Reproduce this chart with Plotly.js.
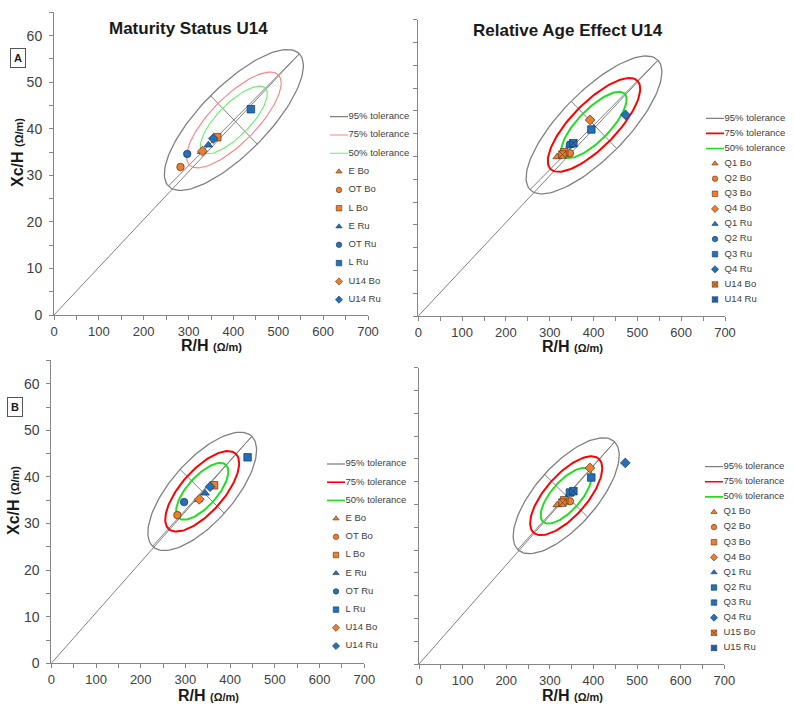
<!DOCTYPE html>
<html>
<head>
<meta charset="utf-8">
<script src="https://cdn.plot.ly/plotly-3.0.1.min.js"></script>
<style>body { margin: 0; background: #fff; }</style>
</head>
<body>
<div id="plotRXc" style="width:794px;height:711px;"></div>
<script>
// Access plot div
let plotRXc = document.getElementById("plotRXc");

// Tolerance ellipses of the reference population: centre, major and minor half-axis at 95%
var u14Centre = [401, 41.9];
var u14Major = [146, 14.2];
var u14Minor = [52, -5.2];
var u15Centre = [337.5, 36.9];
var u15Major = [111, 11.8];
var u15Minor = [49.5, -4.7];

var toleranceLabels = ['95% tolerance', '75% tolerance', '50% tolerance'];
var chiSquare = [5.991, 2.773, 1.386]; // 2 dof quantiles for 95, 75 and 50 %

// Maturity status groups
var maturityNames = ['E Bo', 'OT Bo', 'L Bo', 'E Ru', 'OT Ru', 'L Ru', 'U14 Bo', 'U14 Ru'];
var maturityR = [329, 282, 364, 344, 297, 439, 331, 355];
var maturityXc = [35.1, 31.8, 38.2, 36.5, 34.6, 44.2, 35.2, 37.9];
var maturitySymbols = ['triangle-up', 'circle', 'square', 'triangle-up', 'circle', 'square', 'diamond', 'diamond'];

// Relative age groups
var ageNamesTop = ['Q1 Bo', 'Q2 Bo', 'Q3 Bo', 'Q4 Bo', 'Q1 Ru', 'Q2 Ru', 'Q3 Ru', 'Q4 Ru', 'U14 Bo', 'U14 Ru'];
var ageNamesBottom = ['Q1 Bo', 'Q2 Bo', 'Q3 Bo', 'Q4 Bo', 'Q1 Ru', 'Q2 Ru', 'Q3 Ru', 'Q4 Ru', 'U15 Bo', 'U15 Ru'];
var ageR = [317, 346, 333, 392, 346, 346, 395, 473, 329, 354];
var ageXc = [34.9, 35.7, 35.9, 43.0, 37.4, 37.6, 40.9, 44.1, 35.4, 37.9];
var ageSymbolsTop = ['triangle-up', 'circle', 'square', 'diamond', 'triangle-up', 'circle', 'square', 'diamond', 'square-x', 'square-x'];
var ageSymbolsBottom = ['triangle-up', 'circle', 'square', 'diamond', 'triangle-up', 'square', 'square', 'diamond', 'square-x', 'square-x'];

var orange = '#ed7d31';
var blue = '#2471b8';
var grey = '#808080';
var font = 'Liberation Sans, Arial, sans-serif';

function ellipsePoints(centre, major, minor, k) {
  var xs = [], ys = [];
  for (var i = 0; i <= 120; i++) {
    var t = 2 * Math.PI * i / 120;
    xs.push(centre[0] + k * (Math.cos(t) * major[0] + Math.sin(t) * minor[0]));
    ys.push(centre[1] + k * (Math.cos(t) * major[1] + Math.sin(t) * minor[1]));
  }
  return [xs, ys];
}

function fillFor(name) { return name.indexOf('Bo') > -1 ? orange : blue; }
function edgeFor(name) { return name.indexOf('Bo') > -1 ? '#5a3210' : '#16345a'; }

// one RXc panel: tolerance ellipses, axis lines, group means and a key drawn on its own axes
function makePanel(n, centre, major, minor, names, rs, xcs, symbols, ellipseColors, ellipseWidths) {
  var xa = 'x' + (n === 1 ? '' : n), ya = 'y' + (n === 1 ? '' : n);
  var kx = 'x' + (n + 4), ky = 'y' + (n + 4);
  var traces = [];

  // origin line, major axis and minor axis of the 95% ellipse
  traces.push({
    x: [0, centre[0] + major[0], null, centre[0] - major[0], centre[0] + major[0], null, centre[0] - minor[0], centre[0] + minor[0]],
    y: [0, centre[1] + major[1], null, centre[1] - major[1], centre[1] + major[1], null, centre[1] - minor[1], centre[1] + minor[1]],
    xaxis: xa, yaxis: ya,
    mode: 'lines',
    line: {color: grey, width: 1}
  });

  for (var i = 0; i < toleranceLabels.length; i++) {
    var pts = ellipsePoints(centre, major, minor, Math.sqrt(chiSquare[i] / chiSquare[0]));
    traces.push({
      x: pts[0], y: pts[1],
      xaxis: xa, yaxis: ya,
      mode: 'lines',
      line: {color: ellipseColors[i], width: ellipseWidths[i]}
    });
    // key line
    traces.push({
      x: [-18, 0], y: [i, i],
      xaxis: kx, yaxis: ky,
      mode: 'lines',
      line: {color: ellipseColors[i], width: Math.min(ellipseWidths[i], 1.6)}
    });
  }

  traces.push({
    x: rs, y: xcs,
    xaxis: xa, yaxis: ya,
    mode: 'markers',
    marker: {
      symbol: symbols,
      size: 7.5,
      color: names.map(fillFor),
      line: {color: names.map(edgeFor), width: 0.7}
    }
  });

  // key markers and labels, one row per entry
  var rows = names.map(function(d, j) { return j + toleranceLabels.length; });
  traces.push({
    x: rows.map(function() { return -9; }), y: rows,
    xaxis: kx, yaxis: ky,
    mode: 'markers',
    marker: {
      symbol: symbols,
      size: 5.5,
      color: names.map(fillFor),
      line: {color: names.map(edgeFor), width: 0.6}
    }
  });
  var labels = toleranceLabels.concat(names);
  traces.push({
    x: labels.map(function() { return 0.5; }),
    y: labels.map(function(d, j) { return j; }),
    text: labels,
    xaxis: kx, yaxis: ky,
    mode: 'text',
    textposition: 'middle right',
    textfont: {family: font, size: 9.5, color: '#404040'}
  });
  return traces;
}

var lightColors = [grey, '#ff8080', '#66ee66'];
var brightColors = [grey, '#ff0000', '#22dd22'];

var data = [].concat(
  makePanel(1, u14Centre, u14Major, u14Minor, maturityNames, maturityR, maturityXc, maturitySymbols, lightColors, [1.3, 1.1, 1.1]),
  makePanel(2, u14Centre, u14Major, u14Minor, ageNamesTop, ageR, ageXc, ageSymbolsTop, brightColors, [1.3, 2, 2]),
  makePanel(3, u15Centre, u15Major, u15Minor, maturityNames, maturityR, maturityXc, maturitySymbols, brightColors, [1.3, 2, 2]),
  makePanel(4, u15Centre, u15Major, u15Minor, ageNamesBottom, ageR, ageXc, ageSymbolsBottom, brightColors, [1.3, 2, 2])
);
data.forEach(function(t) { t.showlegend = false; t.hoverinfo = 'skip'; });

// pixel helpers for the 794 x 711 page
function px(v) { return v / 794; }
function py(v) { return 1 - v / 711; }

function xAxis(left, right, anchor) {
  return {
    domain: [px(left), px(right)],
    anchor: anchor,
    range: [0, 700],
    tick0: 0, dtick: 100,
    ticks: 'outside', ticklen: 4, tickcolor: '#868686',
    minor: {dtick: 50, ticks: 'outside', ticklen: 4, tickcolor: '#868686'},
    showline: true, linecolor: '#868686', linewidth: 1,
    showgrid: false, zeroline: false,
    ticklabelstandoff: 0,
    tickfont: {family: font, size: 13, color: '#404040'}
  };
}

function yAxis(bottom, top, anchor, labels) {
  return {
    domain: [py(bottom), py(top)],
    anchor: anchor,
    range: [0, 65],
    tick0: 0, dtick: 10,
    ticks: 'outside', ticklen: 4, tickcolor: '#868686',
    minor: {dtick: 5, ticks: 'outside', ticklen: 4, tickcolor: '#868686'},
    showline: true, linecolor: '#868686', linewidth: 1,
    showgrid: false, zeroline: false,
    showticklabels: labels,
    ticklabelstandoff: 4,
    tickfont: {family: font, size: 14, color: '#404040'}
  };
}

// key axes: one unit per pixel across, one row per entry down
function keyAxes(textLeft, firstRow, spacing, count) {
  var hidden = {visible: false, showgrid: false, zeroline: false, fixedrange: true};
  var kxa = Object.assign({domain: [px(textLeft - 20), px(textLeft + 70)], range: [-20, 70]}, hidden);
  var kya = Object.assign({
    domain: [py(firstRow + (count - 0.5) * spacing), py(firstRow - spacing / 2)],
    range: [count - 0.5, -0.5]
  }, hidden);
  return [kxa, kya];
}

var keyA = keyAxes(348, 116.7, 18.3, 11);
var keyB = keyAxes(724, 118.3, 15.1, 13);
var keyC = keyAxes(345, 464, 18.2, 11);
var keyD = keyAxes(723, 466.7, 15.1, 13);

var xTitle = '<b>R/H</b> <b><span style="font-size:11px">(Ω/m)</span></b>';
var yTitle = '<b>Xc/H</b> <b><span style="font-size:11px">(Ω/m)</span></b>';

function note(text, x, y, size, extra) {
  var a = {
    text: text, xref: 'paper', yref: 'paper',
    x: px(x), y: py(y), xanchor: 'center', yanchor: 'middle',
    showarrow: false,
    font: {family: font, size: size, color: '#1a1a1a'}
  };
  for (var k in extra) { a[k] = extra[k]; }
  return a;
}

var layout = {
  width: 794,
  height: 711,
  margin: {l: 0, r: 0, t: 0, b: 0},
  paper_bgcolor: '#fff',
  plot_bgcolor: 'rgba(0,0,0,0)',
  showlegend: false,
  xaxis: xAxis(54, 368, 'y'),
  yaxis: yAxis(315, 12.4, 'x', true),
  xaxis2: xAxis(418.3, 725, 'y2'),
  yaxis2: yAxis(316, 19.6, 'x2', false),
  xaxis3: xAxis(51.3, 364.3, 'y3'),
  yaxis3: yAxis(663.3, 360.4, 'x3', true),
  xaxis4: xAxis(419, 724.3, 'y4'),
  yaxis4: yAxis(664, 367.6, 'x4', false),
  xaxis5: Object.assign({anchor: 'y5'}, keyA[0]), yaxis5: Object.assign({anchor: 'x5'}, keyA[1]),
  xaxis6: Object.assign({anchor: 'y6'}, keyB[0]), yaxis6: Object.assign({anchor: 'x6'}, keyB[1]),
  xaxis7: Object.assign({anchor: 'y7'}, keyC[0]), yaxis7: Object.assign({anchor: 'x7'}, keyC[1]),
  xaxis8: Object.assign({anchor: 'y8'}, keyD[0]), yaxis8: Object.assign({anchor: 'x8'}, keyD[1]),
  annotations: [
    note('<b>Maturity Status U14</b>', 188, 28, 17),
    note('<b>Relative Age Effect U14</b>', 568, 30, 17),
    note(xTitle, 211, 345, 16),
    note(xTitle, 572, 346, 16),
    note(xTitle, 208, 695, 16),
    note(xTitle, 572, 695, 16),
    note(yTitle, 17, 153, 16, {textangle: -90}),
    note(yTitle, 13, 501, 16, {textangle: -90}),
    note('<b>A</b>', 17.8, 58, 11, {bordercolor: '#555', borderwidth: 1, borderpad: 3, bgcolor: '#fff'}),
    note('<b>B</b>', 15, 406.7, 11, {bordercolor: '#555', borderwidth: 1, borderpad: 3, bgcolor: '#fff'})
  ]
};

let config = {staticPlot: true};

Plotly.newPlot(plotRXc, data, layout, config);
</script>
</body>
</html>
